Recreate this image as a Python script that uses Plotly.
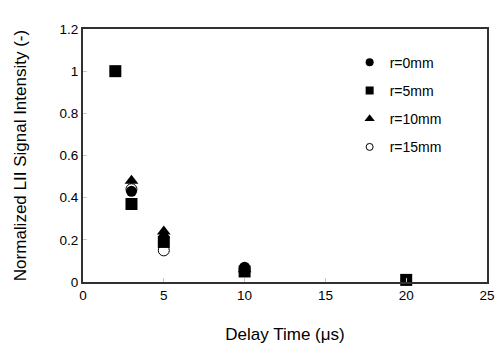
import plotly.graph_objects as go

series_names = ["r=0mm", "r=5mm", "r=10mm", "r=15mm"]
r0_x = [2, 3, 5, 10, 20]
r0_y = [1.0, 0.43, 0.21, 0.07, 0.01]
r5_x = [2, 3, 5, 10, 20]
r5_y = [1.0, 0.37, 0.19, 0.05, 0.01]
r10_x = [3, 5, 10]
r10_y = [0.48, 0.24, 0.06]
r15_x = [3, 5, 10]
r15_y = [0.44, 0.15, 0.06]

x_ticks = [0, 5, 10, 15, 20, 25]
y_ticks = [0, 0.2, 0.4, 0.6, 0.8, 1.0, 1.2]

FONT = "Liberation Sans, Arial"

styles = {
    "r=0mm": dict(symbol="circle", color="black", line=dict(color="black", width=0)),
    "r=5mm": dict(symbol="square", color="black", line=dict(color="black", width=0)),
    "r=10mm": dict(symbol="triangle-up", color="black", line=dict(color="black", width=0)),
    "r=15mm": dict(symbol="circle", color="white", line=dict(color="black", width=1)),
}
sizes = {"r=0mm": 11, "r=5mm": 12, "r=10mm": 12, "r=15mm": 11}
legend_sizes = {"r=0mm": 8, "r=5mm": 8, "r=10mm": 9, "r=15mm": 7}
data = {
    "r=0mm": (r0_x, r0_y),
    "r=5mm": (r5_x, r5_y),
    "r=10mm": (r10_x, r10_y),
    "r=15mm": (r15_x, r15_y),
}

fig = go.Figure()
# drawing order (last on top)
for name in ["r=15mm", "r=5mm", "r=0mm", "r=10mm"]:
    xs, ys = data[name]
    fig.add_trace(go.Scatter(x=xs, y=ys, mode="markers", name=name, legendgroup=name,
                             showlegend=False, cliponaxis=False,
                             marker=dict(size=sizes[name], **styles[name])))
# legend entries with small symbols
for i, name in enumerate(series_names):
    fig.add_trace(go.Scatter(x=[None], y=[None], mode="markers", name=name, legendgroup=name,
                             legendrank=i + 1, showlegend=True,
                             marker=dict(size=legend_sizes[name], **styles[name])))

axis_common = dict(showgrid=False, zeroline=False, showline=True, mirror=True,
                   linecolor="#303030", linewidth=2, ticks="inside", ticklen=4,
                   tickcolor="#c8c8c8", automargin=False,
                   tickfont=dict(family=FONT, size=13.5, color="black"))

fig.update_xaxes(range=[0, 25], tickvals=x_ticks, **axis_common,
                 title=dict(text="Delay Time (μs)", font=dict(family=FONT, size=17, color="black"), standoff=26))
fig.update_yaxes(range=[0, 1.2], tickvals=y_ticks, **axis_common,
                 title=dict(text="Normalized LII Signal Intensity (-)", font=dict(family=FONT, size=17, color="black"), standoff=29))

fig.update_layout(
    width=495, height=352,
    margin=dict(l=83, r=8, t=29, b=70, autoexpand=False),
    plot_bgcolor="white", paper_bgcolor="white",
    showlegend=True,
    legend=dict(x=0.66, y=0.93, xanchor="left", yanchor="top",
                font=dict(family=FONT, size=14, color="black"),
                bgcolor="rgba(0,0,0,0)", itemsizing="trace", tracegroupgap=7,
                traceorder="grouped"),
)

fig.write_html("out.html", config={"displayModeBar": False},
               post_script="document.body.style.margin='0';document.body.style.overflow='hidden';")
